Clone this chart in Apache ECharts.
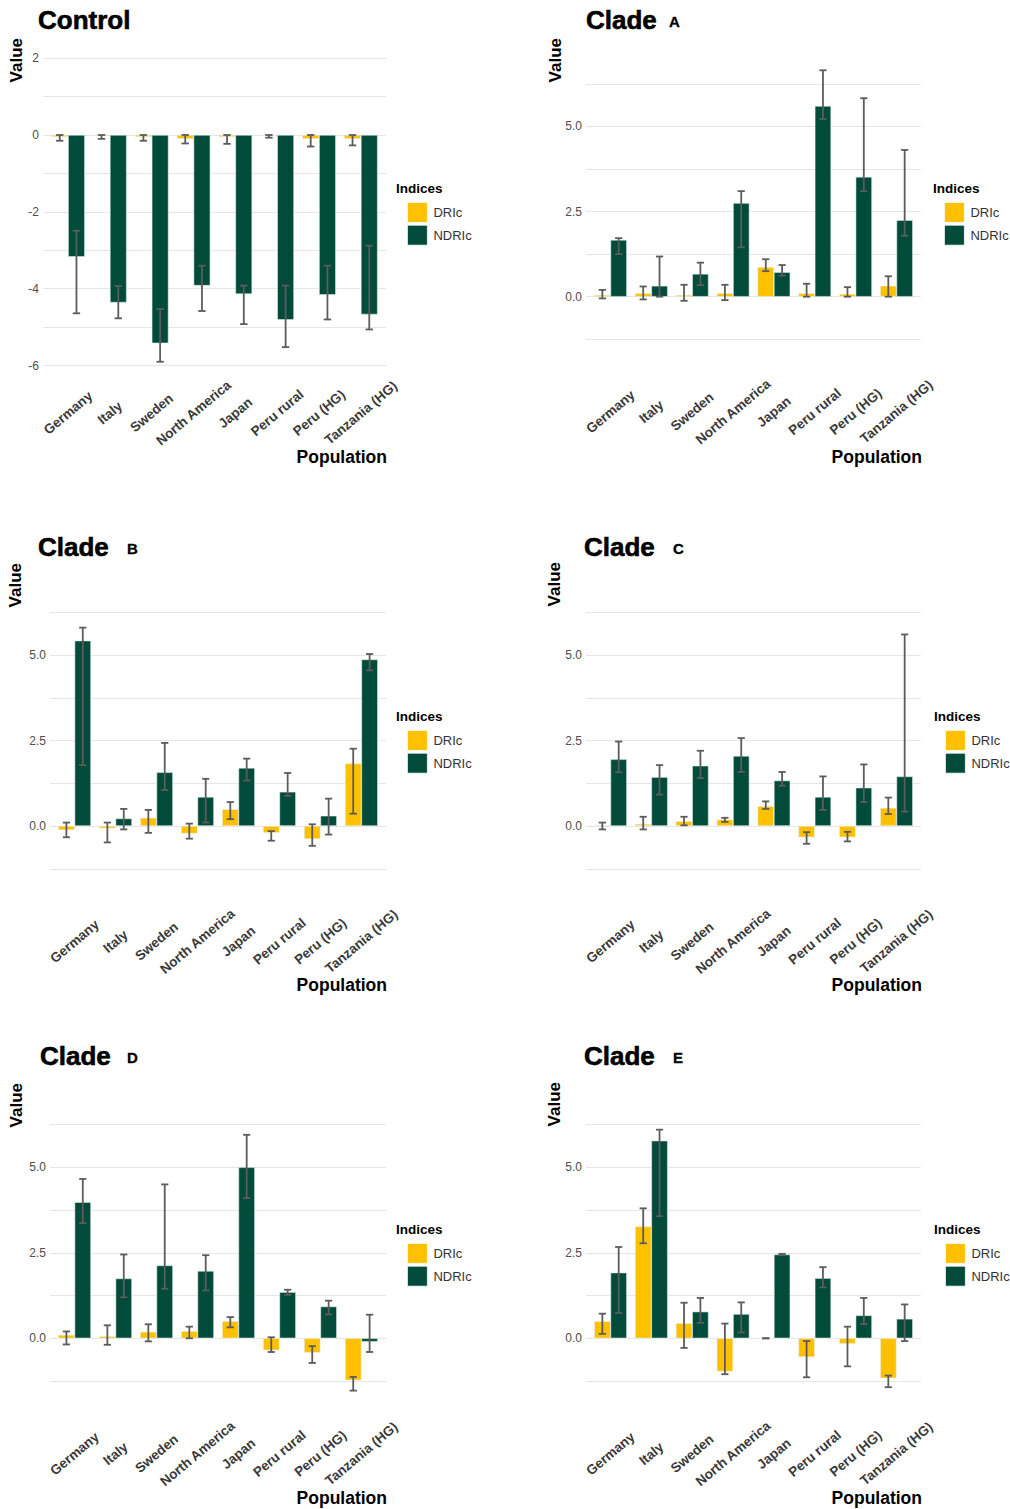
<!DOCTYPE html>
<html>
<head>
<meta charset="utf-8">
<title>DRIc / NDRIc by population</title>
<script src="https://cdn.jsdelivr.net/npm/echarts/dist/echarts.min.js"></script>
<style>
  html, body { margin: 0; padding: 0; background: #ffffff; }
  #chart { width: 1010px; height: 1509px; }
</style>
</head>
<body>
<div id="chart"></div>
<script>
// Populations on the x axis
const populations = ['Germany', 'Italy', 'Sweden', 'North America', 'Japan', 'Peru rural', 'Peru (HG)', 'Tanzania (HG)'];
const seriesNames = ['DRIc', 'NDRIc'];
const panelTitles = ['Control', 'Clade', 'Clade', 'Clade', 'Clade', 'Clade'];
const cladeLetters = ['', 'A', 'B', 'C', 'D', 'E'];

// Control
const controlDRIc      = [-0.05, -0.03, -0.05, -0.10, -0.05, -0.02, -0.10, -0.10];
const controlDRIcLow   = [-0.15, -0.10, -0.15, -0.22, -0.23, -0.07, -0.30, -0.27];
const controlDRIcHigh  = [0, 0, 0, 0, 0, 0, 0, 0];
const controlNDRIc     = [-3.17, -4.36, -5.42, -3.92, -4.14, -4.81, -4.16, -4.67];
const controlNDRIcLow  = [-4.64, -4.77, -5.90, -4.58, -4.92, -5.52, -4.80, -5.06];
const controlNDRIcHigh = [-2.49, -3.93, -4.53, -3.40, -3.92, -3.92, -3.40, -2.88];

// Clade A
const cladeADRIc      = [0.05, 0.10, 0.05, 0.10, 0.87, 0.10, 0.08, 0.32];
const cladeADRIcLow   = [-0.05, -0.08, -0.12, -0.10, 0.75, 0.00, 0.00, 0.00];
const cladeADRIcHigh  = [0.20, 0.30, 0.35, 0.35, 1.10, 0.38, 0.28, 0.60];
const cladeANDRIc     = [1.67, 0.32, 0.67, 2.75, 0.72, 5.60, 3.52, 2.25];
const cladeANDRIcLow  = [1.25, 0.00, 0.34, 1.45, 0.62, 5.22, 3.10, 1.79];
const cladeANDRIcHigh = [1.72, 1.18, 1.00, 3.10, 0.93, 6.65, 5.83, 4.31];

// Clade B
const cladeBDRIc      = [-0.12, -0.07, 0.24, -0.22, 0.49, -0.20, -0.38, 1.83];
const cladeBDRIcLow   = [-0.33, -0.48, -0.20, -0.37, 0.20, -0.43, -0.58, 0.36];
const cladeBDRIcHigh  = [0.10, 0.10, 0.47, 0.07, 0.70, -0.15, 0.05, 2.26];
const cladeBNDRIc     = [5.42, 0.22, 1.57, 0.85, 1.70, 1.00, 0.30, 4.87];
const cladeBNDRIcLow  = [1.78, -0.10, 1.05, 0.10, 1.33, 0.88, -0.25, 4.55];
const cladeBNDRIcHigh = [5.80, 0.50, 2.43, 1.38, 1.97, 1.55, 0.80, 5.03];

// Clade C
const cladeCDRIc      = [0.02, 0.06, 0.14, 0.19, 0.58, -0.33, -0.33, 0.53];
const cladeCDRIcLow   = [-0.10, -0.10, 0.02, 0.12, 0.50, -0.52, -0.45, 0.35];
const cladeCDRIcHigh  = [0.10, 0.27, 0.27, 0.24, 0.72, -0.18, -0.17, 0.83];
const cladeCNDRIc     = [1.95, 1.43, 1.76, 2.05, 1.33, 0.85, 1.12, 1.45];
const cladeCNDRIcLow  = [1.57, 0.92, 1.40, 1.58, 1.18, 0.47, 0.70, 0.42];
const cladeCNDRIcHigh = [2.47, 1.78, 2.20, 2.57, 1.58, 1.45, 1.80, 5.60];

// Clade D
const cladeDDRIc      = [0.10, 0.06, 0.19, 0.21, 0.50, -0.35, -0.42, -1.23];
const cladeDDRIcLow   = [-0.18, -0.19, -0.09, 0.00, 0.32, -0.40, -0.72, -1.53];
const cladeDDRIcHigh  = [0.20, 0.38, 0.41, 0.34, 0.62, 0.03, -0.23, -1.13];
const cladeDNDRIc     = [3.98, 1.75, 2.13, 1.97, 5.00, 1.35, 0.93, -0.10];
const cladeDNDRIcLow  = [3.37, 1.20, 1.45, 1.40, 4.10, 1.27, 0.70, -0.40];
const cladeDNDRIcHigh = [4.66, 2.45, 4.50, 2.43, 5.95, 1.42, 1.10, 0.69];

// Clade E
const cladeEDRIc      = [0.50, 3.27, 0.44, -0.97, 0.00, -0.55, -0.16, -1.17];
const cladeEDRIcLow   = [0.13, 2.78, -0.28, -1.05, 0.00, -1.14, -0.82, -1.43];
const cladeEDRIcHigh  = [0.72, 3.80, 1.04, 0.43, 0.00, -0.08, 0.34, -1.09];
const cladeENDRIc     = [1.92, 5.78, 0.78, 0.71, 2.45, 1.76, 0.67, 0.57];
const cladeENDRIcLow  = [0.74, 3.57, 0.45, 0.17, 2.43, 1.49, 0.42, -0.08];
const cladeENDRIcHigh = [2.67, 6.10, 1.18, 1.05, 2.47, 2.08, 1.18, 0.99];

// Y tick labels
const controlTicks = [-6, -4, -2, 0, 2];
const cladeTicks = [0, 2.5, 5];

const panelData = [
  [controlDRIc, controlDRIcLow, controlDRIcHigh, controlNDRIc, controlNDRIcLow, controlNDRIcHigh],
  [cladeADRIc, cladeADRIcLow, cladeADRIcHigh, cladeANDRIc, cladeANDRIcLow, cladeANDRIcHigh],
  [cladeBDRIc, cladeBDRIcLow, cladeBDRIcHigh, cladeBNDRIc, cladeBNDRIcLow, cladeBNDRIcHigh],
  [cladeCDRIc, cladeCDRIcLow, cladeCDRIcHigh, cladeCNDRIc, cladeCNDRIcLow, cladeCNDRIcHigh],
  [cladeDDRIc, cladeDDRIcLow, cladeDDRIcHigh, cladeDNDRIc, cladeDNDRIcLow, cladeDNDRIcHigh],
  [cladeEDRIc, cladeEDRIcLow, cladeEDRIcHigh, cladeENDRIc, cladeENDRIcLow, cladeENDRIcHigh]
];

// Panel geometry: y0 = pixel row of value 0, u = pixels per unit, x0..x1 = gridline span
const layouts = [
  { y0: 135,    u: 38.43, x0: 43,  x1: 386, tX: 38,  tY: 19.5,   lX: 0,   lY: 0,      vX: 16,  vTop: 38,   legX: 396, legY: 188,  popY: 457 },
  { y0: 296.7,  u: 34.05, x0: 586, x1: 921, tX: 586, tY: 19.5,   lX: 669, lY: 21,     vX: 555, vTop: 38,   legX: 933, legY: 188,  popY: 457 },
  { y0: 826,    u: 34.2,  x0: 50,  x1: 386, tX: 38,  tY: 547,    lX: 127, lY: 548,    vX: 15,  vTop: 563,  legX: 396, legY: 716,  popY: 985 },
  { y0: 826,    u: 34.2,  x0: 586, x1: 921, tX: 584, tY: 547,    lX: 673, lY: 548.5,  vX: 554, vTop: 562,  legX: 934, legY: 716,  popY: 985 },
  { y0: 1338.3, u: 34.2,  x0: 50,  x1: 386, tX: 40,  tY: 1055.5, lX: 127, lY: 1057,   vX: 16,  vTop: 1083, legX: 396, legY: 1229, popY: 1498 },
  { y0: 1338.3, u: 34.2,  x0: 586, x1: 921, tX: 584, tY: 1055.5, lX: 673, lY: 1057,   vX: 554, vTop: 1082, legX: 934, legY: 1229, popY: 1498 }
];

const COLORS = { DRIc: '#FFC000', NDRIc: '#004B3A' };
const ERR_COLOR = '#5c5c5c';
const SANS = '"Liberation Sans", Arial, sans-serif';

function errorBarRenderer(side) {
  return function (params, api) {
    const i = api.value(0);
    const lo = api.value(1);
    const hi = api.value(2);
    const band = api.size([1, 0])[0];
    const cx = api.coord([i, 0])[0] + side * band * 0.2;
    const yl = api.coord([i, lo])[1];
    const yh = api.coord([i, hi])[1];
    const cw = band * 0.088;
    const style = { stroke: ERR_COLOR, lineWidth: 1.8 };
    return {
      type: 'group',
      children: [
        { type: 'line', shape: { x1: cx, y1: yl, x2: cx, y2: yh }, style: style },
        { type: 'line', shape: { x1: cx - cw, y1: yl, x2: cx + cw, y2: yl }, style: style },
        { type: 'line', shape: { x1: cx - cw, y1: yh, x2: cx + cw, y2: yh }, style: style }
      ]
    };
  };
}

const grids = [], xAxes = [], yAxes = [], series = [], legends = [], graphics = [];

layouts.forEach(function (L, p) {
  const isControl = p === 0;
  const gl = isControl ? [-6, 2] : [-1.25, 6.25];
  const glInt = isControl ? 1 : 1.25;
  const br = isControl ? [-6.32, 2.5] : [-2.35, 7.6];
  const ticks = isControl ? controlTicks : cladeTicks;

  // background grid: horizontal lines + y tick labels
  grids.push({ left: L.x0, width: L.x1 - L.x0, top: L.y0 - gl[1] * L.u, height: (gl[1] - gl[0]) * L.u, outerBoundsMode: 'none', containLabel: false });
  xAxes.push({ type: 'value', gridIndex: 2 * p, show: false, min: 0, max: 1 });
  yAxes.push({
    type: 'value', gridIndex: 2 * p, min: gl[0], max: gl[1], interval: glInt,
    axisLine: { show: false }, axisTick: { show: false },
    splitLine: { show: true, lineStyle: { color: '#e6e6e6', width: 1 } },
    axisLabel: {
      show: true, margin: 4, color: '#4d4d4d', fontSize: 12, fontFamily: SANS,
      formatter: function (v) {
        const hit = ticks.some(function (t) { return Math.abs(t - v) < 1e-6; });
        if (!hit) return '';
        return isControl ? String(Math.round(v)) : v.toFixed(1);
      }
    }
  });

  // bar grid: categories with 0.6-band padding at each end
  const band = (L.x1 - L.x0) / 8.2;
  grids.push({ left: L.x0 + 0.1 * band, width: 8 * band, top: L.y0 - br[1] * L.u, height: (br[1] - br[0]) * L.u, outerBoundsMode: 'none', containLabel: false });
  xAxes.push({
    type: 'category', gridIndex: 2 * p + 1, data: populations, boundaryGap: true,
    axisLine: { show: false }, axisTick: { show: false }, splitLine: { show: false },
    axisLabel: {
      interval: 0, rotate: 40, align: 'center', verticalAlign: 'middle', margin: 35,
      color: '#3a3a3a', fontSize: 13.5, fontWeight: 'bold', fontFamily: SANS
    }
  });
  yAxes.push({ type: 'value', gridIndex: 2 * p + 1, min: br[0], max: br[1], show: false, splitLine: { show: false } });

  const d = panelData[p];
  [[d[0], d[1], d[2], 'DRIc', -1], [d[3], d[4], d[5], 'NDRIc', 1]].forEach(function (s) {
    series.push({
      type: 'bar', name: s[3], xAxisIndex: 2 * p + 1, yAxisIndex: 2 * p + 1,
      data: s[0], barWidth: '40%', barGap: '0%',
      itemStyle: { color: COLORS[s[3]], borderColor: 'rgba(225,238,232,0.9)', borderWidth: 0.6 },
      emphasis: { disabled: true }, z: 2
    });
    series.push({
      type: 'custom', name: s[3] + ' range', xAxisIndex: 2 * p + 1, yAxisIndex: 2 * p + 1,
      renderItem: errorBarRenderer(s[4]),
      encode: { x: 0, y: [1, 2] },
      data: s[0].map(function (_, i) { return [i, s[1][i], s[2][i]]; }),
      z: 5, silent: true
    });
  });

  legends.push({
    data: seriesNames, orient: 'vertical', left: L.legX + 11, top: L.legY + 14,
    padding: 0, itemGap: 2, itemWidth: 20, itemHeight: 20, icon: 'rect',
    selectedMode: false,
    itemStyle: { borderColor: '#ffffff', borderWidth: 0.8 },
    textStyle: { color: '#333333', fontSize: 13, fontFamily: SANS, padding: [0, 0, 0, 1] }
  });

  // panel title
  graphics.push({ type: 'text', x: L.tX, y: L.tY, style: { text: panelTitles[p], fontSize: 26, fontWeight: 'bold', fontFamily: SANS, fill: '#000000', stroke: '#000000', lineWidth: 0.6, align: 'left', verticalAlign: 'middle' } });
  if (cladeLetters[p]) {
    graphics.push({ type: 'text', x: L.lX, y: L.lY, style: { text: cladeLetters[p], fontSize: 15, fontWeight: 'bold', fontFamily: SANS, fill: '#000000', stroke: '#000000', lineWidth: 0.3, align: 'left', verticalAlign: 'middle' } });
  }
  // y axis title
  graphics.push({ type: 'text', x: L.vX, y: L.vTop, rotation: Math.PI / 2, style: { text: 'Value', fontSize: 17, fontWeight: 'bold', fontFamily: SANS, fill: '#000000', align: 'right', verticalAlign: 'middle' } });
  // x axis title
  graphics.push({ type: 'text', x: L.x1 + 1, y: L.popY, style: { text: 'Population', fontSize: 17.5, fontWeight: 'bold', fontFamily: SANS, fill: '#000000', align: 'right', verticalAlign: 'middle' } });
  // legend title
  graphics.push({ type: 'text', x: L.legX, y: L.legY, style: { text: 'Indices', fontSize: 13.5, fontWeight: 'bold', fontFamily: SANS, fill: '#000000', align: 'left', verticalAlign: 'middle' } });
});

const chart = echarts.init(document.getElementById('chart'), null, { renderer: 'svg', width: 1010, height: 1509 });
chart.setOption({
  backgroundColor: '#ffffff',
  animation: false,
  grid: grids,
  xAxis: xAxes,
  yAxis: yAxes,
  legend: legends,
  series: series,
  graphic: graphics
});
</script>
</body>
</html>
